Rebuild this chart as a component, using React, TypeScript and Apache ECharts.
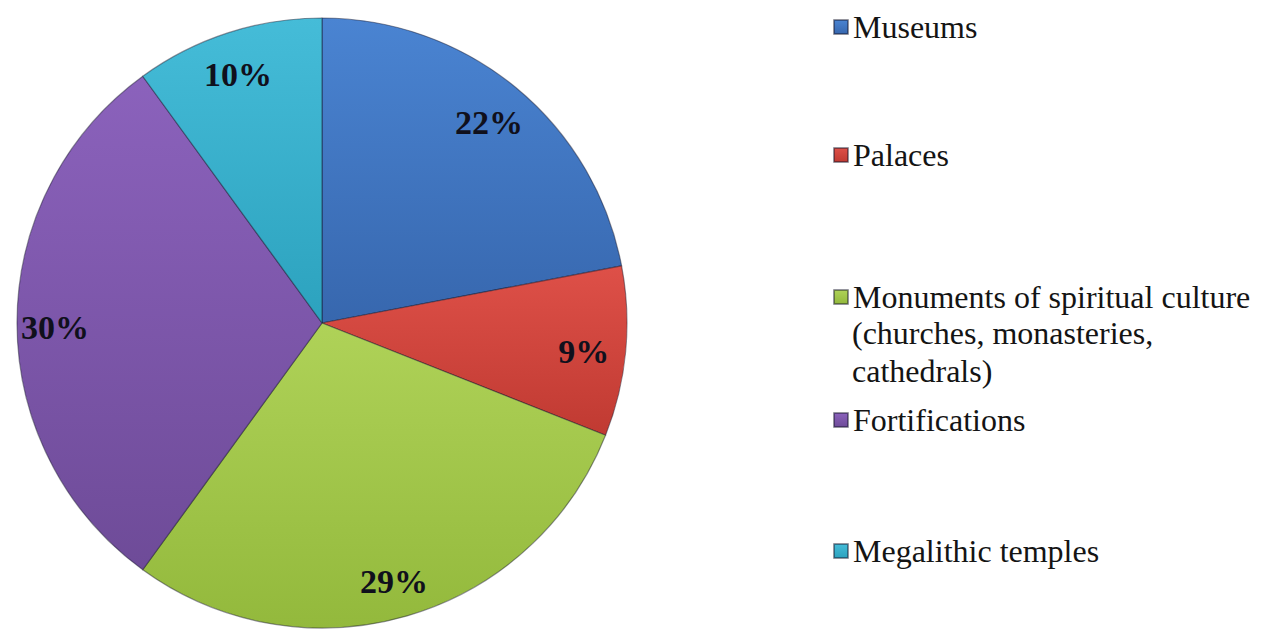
import React, { useEffect, useRef } from "react";
import * as echarts from "echarts";

const categories = [
  "Museums",
  "Palaces",
  "Monuments of spiritual culture (churches, monasteries, cathedrals)",
  "Fortifications",
  "Megalithic temples",
];
const values = [22, 9, 29, 30, 10];
const legendFirstLine: Record<string, string> = {
  "Monuments of spiritual culture (churches, monasteries, cathedrals)":
    "Monuments of spiritual culture",
};
const legendExtraLines = ["(churches, monasteries,", "cathedrals)"];
const colorsTop = ["#4A84D2", "#DE5048", "#AFD258", "#8B62BC", "#45BCD8"];
const colorsBottom = ["#3767AE", "#C03A32", "#93B93C", "#6E4B98", "#2CA2BE"];
const legendTops = [8, 136, 278, 401, 532];

export default function App() {
  const ref = useRef<HTMLDivElement>(null);
  useEffect(() => {
    if (!ref.current) return;
    const chart = echarts.init(ref.current, null, { renderer: "svg" });
    const font = "Liberation Serif";
    const grad = (i: number) =>
      new echarts.graphic.LinearGradient(0, 0, 0, 1, [
        { offset: 0, color: colorsTop[i] },
        { offset: 1, color: colorsBottom[i] },
      ]);
    const center = [322, 323];
    const R = 305;
    chart.setOption({
      animation: false,
      backgroundColor: "#ffffff",
      legend: categories.map((name, i) => ({
        data: [name],
        left: 833,
        top: legendTops[i],
        padding: 0,
        orient: "vertical",
        itemWidth: 14,
        itemHeight: 14,
        icon: "rect",
        selectedMode: false,
        formatter: (n: string) => legendFirstLine[n] || n,
        textStyle: {
          fontFamily: font,
          fontSize: 32,
          lineHeight: 38,
          color: "#141414",
        },
      })),
      graphic: legendExtraLines.map((t, k) => ({
        type: "text",
        left: 852,
        top: 314 + k * 38,
        style: {
          text: t,
          fontFamily: font,
          fontSize: 32,
          lineHeight: 38,
          fill: "#141414",
        },
      })),
      series: [
        {
          type: "pie",
          center,
          radius: R,
          startAngle: 90,
          clockwise: true,
          label: { show: false },
          labelLine: { show: false },
          silent: true,
          itemStyle: { borderColor: "rgba(20,20,40,0.45)", borderWidth: 1.2 },
          data: categories.map((name, i) => ({
            name,
            value: values[i],
            itemStyle: { color: grad(i) },
          })),
        },
        {
          type: "pie",
          center,
          radius: [219, R],
          startAngle: 90,
          clockwise: true,
          silent: true,
          itemStyle: { color: "rgba(0,0,0,0)", borderWidth: 0 },
          label: {
            show: true,
            position: "inside",
            formatter: "{d}%",
            fontFamily: font,
            fontWeight: "bold",
            fontSize: 34,
            color: "#10101c",
            offset: [-2, 4],
          },
          labelLine: { show: false },
          data: categories.map((name, i) => ({ name, value: values[i] })),
        },
      ],
    });
    return () => chart.dispose();
  }, []);
  return (
    <div
      ref={ref}
      style={{ position: "fixed", left: 0, top: 0, width: 1285, height: 631 }}
    />
  );
}
